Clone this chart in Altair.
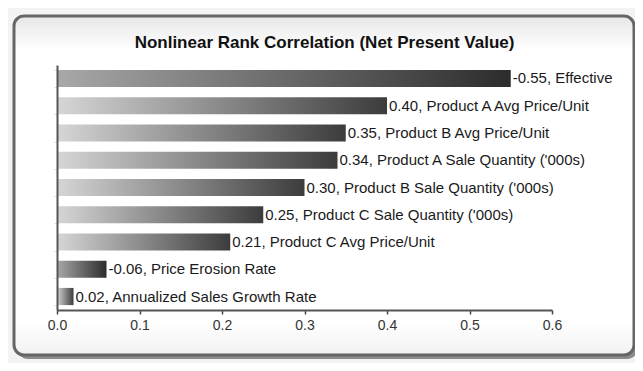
import altair as alt
import pandas as pd

labels = [
    "Effective",
    "Product A Avg Price/Unit",
    "Product B Avg Price/Unit",
    "Product A Sale Quantity ('000s)",
    "Product B Sale Quantity ('000s)",
    "Product C Sale Quantity ('000s)",
    "Product C Avg Price/Unit",
    "Price Erosion Rate",
    "Annualized Sales Growth Rate",
]
values = [-0.55, 0.40, 0.35, 0.34, 0.30, 0.25, 0.21, -0.06, 0.02]
x_ticks = [0.0, 0.1, 0.2, 0.3, 0.4, 0.5, 0.6]
title_text = "Nonlinear Rank Correlation (Net Present Value)"

df = pd.DataFrame({"label": labels, "value": values})
df["mag"] = df["value"].abs()
df["text"] = [f"{v:.2f}, {l}" for v, l in zip(values, labels)]

FONT = "Liberation Sans"

grad_pos = alt.LinearGradient(
    gradient="linear", x1=0, x2=1, y1=0, y2=0,
    stops=[alt.GradientStop(color="#d6d6d6", offset=0),
           alt.GradientStop(color="#3c3c3c", offset=1)],
)
grad_neg = alt.LinearGradient(
    gradient="linear", x1=0, x2=1, y1=0, y2=0,
    stops=[alt.GradientStop(color="#a8a8a8", offset=0),
           alt.GradientStop(color="#2c2c2c", offset=1)],
)
grad_frame = alt.LinearGradient(
    gradient="linear", x1=0, x2=0, y1=0, y2=1,
    stops=[alt.GradientStop(color="#e6e6e6", offset=0),
           alt.GradientStop(color="#ffffff", offset=0.1),
           alt.GradientStop(color="#ffffff", offset=0.9),
           alt.GradientStop(color="#f2f2f2", offset=1)],
)

frame_data = alt.Data(values=[{"f": 1}])

shadow = alt.Chart(frame_data).mark_rect(fill="#8c8c8c", cornerRadius=11).encode(
    x=alt.value(-40), x2=alt.value(581), y=alt.value(-46), y2=alt.value(294)
)
frame = alt.Chart(frame_data).mark_rect(
    fill=grad_frame, stroke="#666666", strokeWidth=3, cornerRadius=10
).encode(
    x=alt.value(-43), x2=alt.value(577), y=alt.value(-49), y2=alt.value(290)
)

base = alt.Chart(df).encode(
    y=alt.Y(
        "label:N", sort=labels,
        scale=alt.Scale(paddingInner=0.37, paddingOuter=0.18),
        axis=alt.Axis(labels=False, title=None, domainColor="#555555", domainWidth=2,
                      ticks=True, tickBand="extent", tickSize=3, tickColor="#dddddd",
                      grid=False, zindex=2),
    ),
    x=alt.X(
        "mag:Q",
        scale=alt.Scale(domain=[0, 0.6], nice=False),
        axis=alt.Axis(values=x_ticks, format=".1f", title=None, grid=False,
                      domainColor="#555555", domainWidth=2, tickColor="#444444",
                      tickSize=4, tickWidth=1.5, labelFontSize=14, labelColor="#333333",
                      labelFont=FONT, labelPadding=4, labelFlush=False, zindex=2),
    ),
)

pos_bars = base.transform_filter("datum.value >= 0").mark_bar(fill=grad_pos)
neg_bars = base.transform_filter("datum.value < 0").mark_bar(fill=grad_neg)
text = base.mark_text(align="left", baseline="middle", dx=2, fontSize=15, font=FONT,
                      color="#1a1a1a").encode(text="text:N")

chart = alt.layer(shadow, frame, pos_bars, neg_bars, text).properties(
    width=495,
    height=245,
    title=alt.TitleParams(title_text, fontSize=17, fontWeight="bold", font=FONT,
                          color="#111111", anchor="middle", dx=20, dy=37, offset=0),
    autosize=alt.AutoSizeParams(type="none"),
    padding={"left": 49, "top": 57, "right": 83, "bottom": 53},
    background="#f3f3f3",
).configure_view(stroke=None)

chart.save("out.html", embed_options={"renderer": "svg", "actions": False})
